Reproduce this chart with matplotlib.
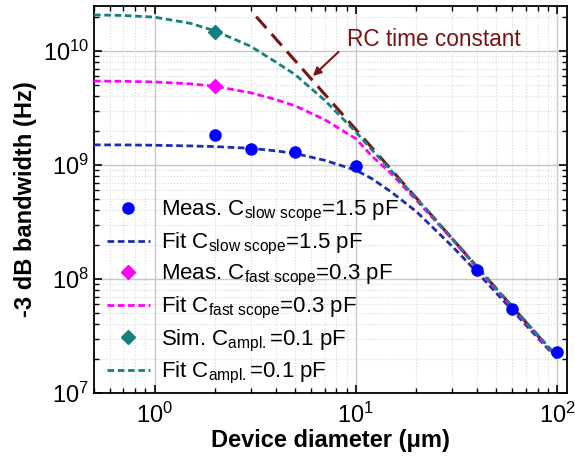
import matplotlib
matplotlib.use("Agg")
import matplotlib.pyplot as plt
import numpy as np

plt.rcParams['font.family'] = ['Liberation Sans', 'DejaVu Sans']
plt.rcParams['mathtext.fontset'] = 'custom'
plt.rcParams['mathtext.rm'] = 'Liberation Sans'
plt.rcParams['mathtext.it'] = 'Liberation Sans:italic'
plt.rcParams['mathtext.bf'] = 'Liberation Sans:bold'

# measured / simulated points
meas_slow_x = [2, 3, 5, 10, 40, 60, 100]
meas_slow_y = [1.83e9, 1.38e9, 1.30e9, 0.98e9, 1.2e8, 5.45e7, 2.3e7]
meas_fast_x = [2]
meas_fast_y = [4.93e9]
sim_ampl_x = [2]
sim_ampl_y = [1.47e10]

# fit curves
fit_x = [0.5, 0.7, 1, 1.5, 2, 3, 4, 5, 7, 10, 12, 15, 20, 30, 40, 60, 100]
fit_slow_y = [1.50e9, 1.50e9, 1.49e9, 1.47e9, 1.45e9, 1.40e9, 1.33e9, 1.26e9,
              1.10e9, 9.0e8, 7.6e8, 5.8e8, 3.9e8, 1.95e8, 1.15e8, 5.3e7, 2.0e7]
fit_fast_y = [5.45e9, 5.42e9, 5.35e9, 5.15e9, 4.90e9, 4.30e9, 3.75e9, 3.30e9,
              2.50e9, 1.70e9, 1.20e9, 8.4e8, 4.9e8, 2.25e8, 1.25e8, 5.6e7, 2.05e7]
fit_ampl_y = [2.07e10, 2.05e10, 1.98e10, 1.75e10, 1.50e10, 1.10e10, 8.0e9, 6.2e9,
              3.7e9, 1.95e9, 1.36e9, 8.9e8, 5.1e8, 2.3e8, 1.28e8, 5.7e7, 2.1e7]

# RC time constant line
rc_x = [3.2, 100]
rc_y = [2.0e10, 2.05e7]

c_blue = '#0000ff'
c_navy = '#1c2db0'
c_mag = '#ff00ff'
c_teal = '#168080'
c_rc = '#7a1414'

fig = plt.figure(figsize=(5.75, 4.58), dpi=100)
ax = fig.add_axes([0.1635, 0.1419, 0.8225, 0.845])

ax.plot(rc_x, rc_y, color=c_rc, lw=2.2, dashes=(5, 2.6), zorder=3)

ax.plot(meas_slow_x, meas_slow_y, 'o', color=c_blue, ms=8, zorder=5,
        label=r'Meas. C$_{\mathrm{slow\ scope}}$=1.5 pF')
ax.plot(fit_x, fit_slow_y, color=c_navy, lw=2, dashes=(2.4, 1.3), zorder=4,
        label=r'Fit C$_{\mathrm{slow\ scope}}$=1.5 pF')
ax.plot(meas_fast_x, meas_fast_y, 'D', color=c_mag, ms=7.5, zorder=5,
        label=r'Meas. C$_{\mathrm{fast\ scope}}$=0.3 pF')
ax.plot(fit_x, fit_fast_y, color=c_mag, lw=2, dashes=(2.4, 1.3), zorder=4,
        label=r'Fit C$_{\mathrm{fast\ scope}}$=0.3 pF')
ax.plot(sim_ampl_x, sim_ampl_y, 'D', color=c_teal, ms=7.5, zorder=5,
        label=r'Sim. C$_{\mathrm{ampl.}}$=0.1 pF')
ax.plot(fit_x, fit_ampl_y, color=c_teal, lw=2, dashes=(2.4, 1.3), zorder=4,
        label=r'Fit C$_{\mathrm{ampl.}}$=0.1 pF')

ax.set_xscale('log')
ax.set_yscale('log')
ax.set_xlim(0.5, 112)
ax.set_ylim(1e7, 2.48e10)

ax.grid(True, which='major', color='#c8c8c8', lw=1, ls='-')
ax.grid(True, which='minor', color='#d8d8d8', lw=0.8, ls=':')
ax.set_axisbelow(True)

ax.tick_params(which='both', direction='in', top=True, right=True, labelsize=17)
ax.tick_params(axis='x', which='major', pad=7)
ax.tick_params(which='major', length=6, width=1.2)
ax.tick_params(which='minor', length=3.5, width=1)
for s in ax.spines.values():
    s.set_linewidth(1.3)

ax.set_xlabel('Device diameter (μm)', fontsize=17, fontweight='bold', labelpad=1)
ax.set_ylabel('-3 dB bandwidth (Hz)', fontsize=17, fontweight='bold', labelpad=4)

ax.text(9.0, 1.25e10, 'RC time constant', color=c_rc, fontsize=16.3, va='center')
ax.annotate('', xy=(5.98, 5.8e9), xytext=(8.4, 1.02e10),
            arrowprops=dict(arrowstyle='-|>', color=c_rc, lw=1.5, mutation_scale=12))

ax.legend(loc='upper left', bbox_to_anchor=(0.0, 0.535), frameon=False, fontsize=16,
          handlelength=1.9, handletextpad=0.5, labelspacing=0.29, borderaxespad=0.3,
          borderpad=0.3)

fig.savefig('out.png', dpi=100)
